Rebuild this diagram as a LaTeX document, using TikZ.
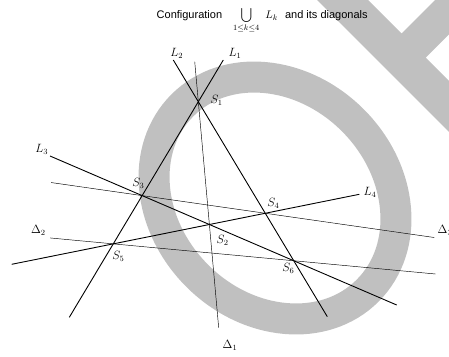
\documentclass[tikz,border=0pt]{standalone}
\usepackage{fontspec}
\setsansfont{Liberation Sans}
\usetikzlibrary{calc}
\definecolor{wmgray}{RGB}{192,192,192}
\tikzset{
  kline/.style={line width=0.9pt},
  dline/.style={line width=0.45pt},
  lbl/.style={font=\fontsize{12}{14}\selectfont, inner sep=0pt}
}
\begin{document}
\begin{tikzpicture}[x=1pt,y=-1pt]
        \useasboundingbox (0,0) rectangle (449,356);
        % watermark behind everything
        \begin{scope}
            \clip (0,0) rectangle (449,356);
            \draw[wmgray, line width=31pt, rotate around={-45:(275,198)}]
                (275,198) ellipse [x radius=131pt, y radius=110pt];
            \fill[wmgray] (317,0) -- (368,0) -- (401.5,33.5) -- (435,0) -- (483.4,0)
                -- (425.7,57.7) -- (470,102) -- (470,153) -- cycle;
        \end{scope}

        % title
        \node[anchor=base west, inner sep=0pt] (title) at (156.5,18.5)
            {\fontsize{11}{13}\selectfont\sffamily Configuration\hspace{11pt}$\displaystyle\bigcup_{1\leq k\leq 4}$\hspace{6pt}$L_k$\hspace{7pt}and its diagonals};

        % end points of the four lines
        \coordinate (L1a) at (223.3,60);
        \coordinate (L1b) at (69.3,317.3);
        \coordinate (L2a) at (173.3,60);
        \coordinate (L2b) at (327.3,316.7);
        \coordinate (L3a) at (50,156);
        \coordinate (L3b) at (396.7,305);
        \coordinate (L4a) at (11.7,264.3);
        \coordinate (L4b) at (359.3,194.3);

        % the six vertices
        \coordinate (S1) at (intersection of L1a--L1b and L2a--L2b);
        \coordinate (S2) at (intersection of L3a--L3b and L4a--L4b);
        \coordinate (S3) at (intersection of L1a--L1b and L3a--L3b);
        \coordinate (S4) at (intersection of L2a--L2b and L4a--L4b);
        \coordinate (S5) at (intersection of L1a--L1b and L4a--L4b);
        \coordinate (S6) at (intersection of L2a--L2b and L3a--L3b);

        % end points of the diagonals
        \coordinate (D1a) at ($(S1)!-0.326!(S2)$);
        \coordinate (D1b) at ($(S1)!1.84!(S2)$);
        \coordinate (D3a) at ($(S3)!-0.74!(S4)$);
        \coordinate (D3b) at ($(S3)!2.373!(S4)$);
        \coordinate (D2a) at ($(S5)!-0.35!(S6)$);
        \coordinate (D2b) at ($(S5)!1.786!(S6)$);

        % draw the lines
        \draw[kline] (L1a) -- (S1) -- (S3) -- (S5) -- (L1b);
        \draw[kline] (L2a) -- (S1) -- (S4) -- (S6) -- (L2b);
        \draw[kline] (L3a) -- (S3) -- (S2) -- (S6) -- (L3b);
        \draw[kline] (L4a) -- (S5) -- (S2) -- (S4) -- (L4b);

        % draw the diagonals
        \draw[dline] (D1a) -- (S1) -- (S2) -- (D1b);
        \draw[dline] (D2a) -- (S5) -- (S6) -- (D2b);
        \draw[dline] (D3a) -- (S3) -- (S4) -- (D3b);

        % labels
        \node[lbl] (tL1) at (235,53.3) {$L_1$};
        \node[lbl] (tL2) at (176.7,53.3) {$L_2$};
        \node[lbl] (tL3) at (41.7,149.3) {$L_3$};
        \node[lbl] (tL4) at (370,192.7) {$L_4$};
        \node[lbl] (tS1) at (216.7,100) {$S_1$};
        \node[lbl] (tS2) at (222.7,240.7) {$S_2$};
        \node[lbl] (tS3) at (138.3,183.3) {$S_3$};
        \node[lbl] (tS4) at (273.3,203.3) {$S_4$};
        \node[lbl] (tS5) at (118.3,256.7) {$S_5$};
        \node[lbl] (tS6) at (288.3,268.3) {$S_6$};
        \node[lbl] (tD1) at (230,345) {$\Delta_1$};
        \node[lbl] (tD2) at (38.3,230) {$\Delta_2$};
        \node[lbl] (tD3) at (445,230) {$\Delta_3$};
\end{tikzpicture}
\end{document}
